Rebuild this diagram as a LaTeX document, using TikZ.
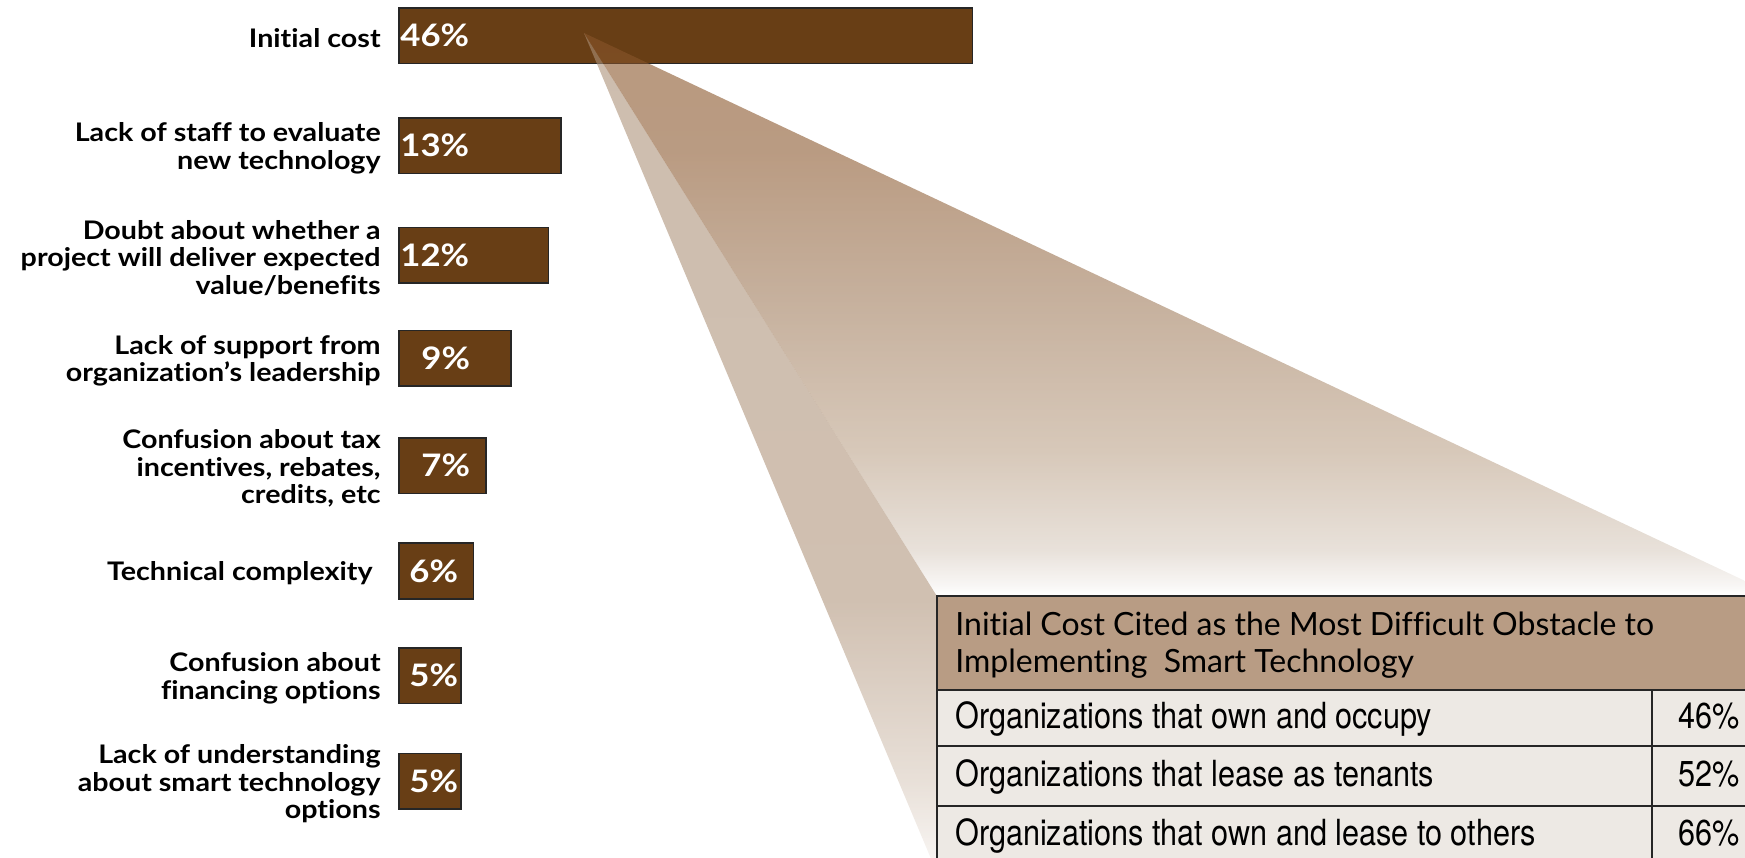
\documentclass[tikz,border=0pt]{standalone}
\usepackage{fontspec}
\setmainfont{Lato}[Ligatures=NoCommon]
\newfontfamily\labfont[FakeStretch=1.12, Ligatures=NoCommon]{Lato}
\newfontfamily\rowfont[FakeStretch=0.85]{TeX Gyre Heros}
\usetikzlibrary{positioning}

\definecolor{barbrown}{RGB}{104,62,21}
\definecolor{headtan}{RGB}{184,156,132}
\definecolor{rowgray}{RGB}{237,233,228}
\definecolor{beamA}{RGB}{243,240,237}
\definecolor{beamB}{RGB}{217,205,193}
\definecolor{beamC}{RGB}{188,163,138}
\definecolor{beamD}{RGB}{160,124,92}
\definecolor{beamE}{RGB}{139,88,46}
\definecolor{beamF}{RGB}{137,85,42}
\definecolor{stripA}{RGB}{247,243,240}
\definecolor{stripB}{RGB}{217,203,190}
\definecolor{stripC}{RGB}{177,150,125}
\definecolor{stripD}{RGB}{172,145,120}

\pgfdeclareverticalshading{beamshade}{100bp}{color(0bp)=(white); color(25bp)=(white);
  color(26bp)=(beamA); color(29.1bp)=(beamB); color(38bp)=(beamC);
  color(51.3bp)=(beamD); color(64.6bp)=(beamE); color(75bp)=(beamF); color(100bp)=(beamF)}
\pgfdeclareverticalshading{stripshade}{100bp}{color(0bp)=(white); color(25bp)=(stripA);
  color(30.5bp)=(stripB); color(41.2bp)=(stripC); color(75bp)=(stripD); color(100bp)=(stripD)}

\begin{document}
\begin{tikzpicture}[x=0.5pt, y=-0.5pt,
  barbox/.style={draw=black!85, line width=0.8pt, fill=barbrown, minimum height=27.8pt, inner sep=0, anchor=west},
  labtext/.style={font=\labfont\bfseries\fontsize{12.8}{13.7}\selectfont, align=right, inner sep=0, anchor=east},
  pcttext/.style={font=\labfont\bfseries\fontsize{15.5}{17}\selectfont, text=white, inner sep=0, anchor=west},
  headtext/.style={font=\fontsize{16}{18.5}\selectfont, inner sep=0, anchor=base west},
  rowtext/.style={font=\rowfont\fontsize{18}{20}\selectfont, inner sep=0, anchor=base west},
  tabline/.style={draw=black!85, line width=0.8pt}]

  \useasboundingbox (0,0) rectangle (1745,857);
  \clip (0,0) rectangle (1745,857);

  % bars with their labels
  \foreach \v/\yc/\tx/\lab [count=\i] in {
      46/35.6/400/{Initial cost},
      13/145.8/400/{Lack of staff to evaluate\\new technology},
      12/255.4/400/{Doubt about whether a\\project will deliver expected\\value/benefits},
      9/358.4/421/{Lack of support from\\organization’s leadership},
      7/465.8/421/{Confusion about tax\\incentives, rebates,\\credits, etc},
      6/570.9/409/{Technical complexity\hspace*{4pt}},
      5/675.6/409/{Confusion about\\financing options},
      5/781.2/409/{Lack of understanding\\about smart technology\\options}}
  {
    \node[barbox, minimum width=\v*6.235pt] (bar\i) at (398,\yc) {};
    \node[pcttext] (pct\i) at (\tx,\yc) {\v\%};
    \node[labtext] (lab\i) at (381,\yc+2.5) {\lab};
  }

  % callout beam
  \coordinate (apex) at (584,33);
  \coordinate (corner) at (937,596);
  \shade[shading=stripshade, fill opacity=0.6] (apex) -- (corner) -- (937,873) -- cycle;
  \shade[shading=beamshade, fill opacity=0.6] (apex) -- (corner) -- (1760,596) -- (1760,588) -- cycle;

  % table
  \draw[tabline, fill=headtan] (corner) rectangle (1760,690);
  \draw[tabline, fill=rowgray] (937,690) rectangle (1760,870);
  \foreach \y in {746,806} \draw[tabline] (937,\y) -- (1760,\y);
  \draw[tabline] (1652,690) -- (1652,870);

  \node[headtext] (head1) at (955,635) {Initial Cost Cited as the Most Difficult Obstacle to};
  \node[headtext] (head2) at (955,672) {Implementing\ \ Smart Technology};

  \foreach \yb/\t/\p [count=\i] in {
      728/{Organizations that own and occupy}/46,
      786.5/{Organizations that lease as tenants}/52,
      845/{Organizations that own and lease to others}/66}
  {
    \node[rowtext] (row\i) at (955,\yb) {\t};
    \node[rowtext] (rowpct\i) at (1678,\yb) {\p\%};
  }
\end{tikzpicture}
\end{document}
